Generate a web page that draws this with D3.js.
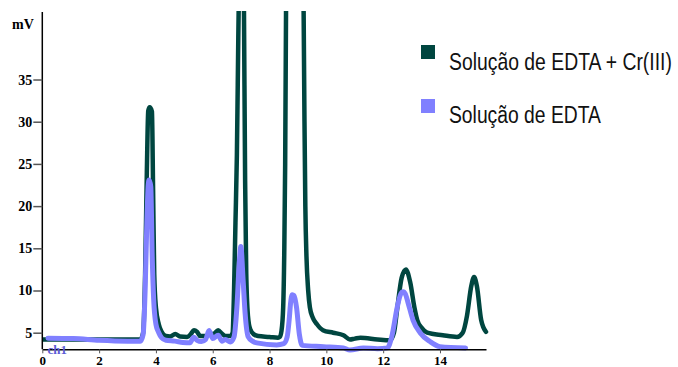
<!DOCTYPE html>
<html>
<head>
<meta charset="utf-8">
<script src="https://cdn.jsdelivr.net/npm/d3@7"></script>
<style>
  html, body { margin: 0; padding: 0; background: #fff; }
  svg { display: block; }
</style>
</head>
<body>
<svg id="chart" width="678" height="367"></svg>
<script>
// ---- data (time in min, signal in mV) ----
const seriesNames = ["Solução de EDTA + Cr(III)", "Solução de EDTA"];
const seriesColors = ["#004640", "#8080ff"];

const crTime = [0, 1, 2, 3, 3.45, 3.55, 3.62, 3.68, 3.73, 3.78, 3.86, 3.9, 3.94, 4.0, 4.1, 4.2, 4.35,
  4.5, 4.68, 4.85, 5.1, 5.22, 5.34, 5.45, 5.56, 5.75, 5.9, 6.05, 6.19, 6.32, 6.45, 6.62,
  6.7, 6.75, 6.8, 6.85, 6.9, 6.98, 7.03, 7.1, 7.14, 7.18, 7.24, 7.32, 7.45, 7.6, 8.0, 8.3,
  8.36, 8.42, 8.48, 8.52, 8.55, 8.58, 8.65, 8.9, 9.15, 9.2, 9.23, 9.26, 9.3, 9.36, 9.42, 9.52,
  9.67, 9.88, 10.24, 10.6, 10.83, 11.0, 11.2, 11.8, 12.24, 12.38, 12.5, 12.65, 12.8, 12.95,
  13.1, 13.2, 13.35, 13.55, 14.1, 14.6, 14.8, 14.95, 15.1, 15.2, 15.3, 15.45, 15.62];
const crValue = [4.2, 4.2, 4.2, 4.2, 4.2, 5.0, 12, 24, 31.3, 31.7, 31.2, 22, 12, 8, 6, 5.1, 4.6,
  4.55, 4.85, 4.55, 4.5, 4.8, 5.3, 5.1, 4.6, 4.6, 4.8, 4.9, 5.3, 4.9, 4.6, 4.6,
  5.0, 10, 18, 26, 40, 60, 70, 43, 23, 12, 7, 5.4, 4.8, 4.6, 4.5, 4.4,
  4.5, 5.2, 8, 15, 25, 43, 70, 110, 70, 43, 30, 20, 14, 10, 8, 6.8,
  6.0, 5.3, 5.0, 4.7, 4.2, 4.3, 4.4, 4.2, 4.1, 5.0, 8.0, 11.5, 12.5, 11.0,
  8.0, 6.5, 5.6, 5.0, 4.7, 4.5, 5.0, 7.0, 10.5, 11.6, 10.5, 6.5, 5.1];

const edtaTime = [0.2, 1.1, 2, 3, 3.45, 3.55, 3.62, 3.68, 3.73, 3.76, 3.82, 3.87, 3.92, 4.0, 4.1, 4.2, 4.35,
  4.66, 4.95, 5.2, 5.33, 5.45, 5.6, 5.75, 5.87, 6.0, 6.19, 6.33, 6.45, 6.62, 6.75, 6.85, 6.93,
  6.99, 7.07, 7.14, 7.25, 7.4, 7.55, 8.25, 8.5, 8.62, 8.69, 8.74, 8.8, 8.86, 8.95, 9.05, 9.15,
  9.9, 10.6, 10.83, 11.3, 11.8, 12.15, 12.3, 12.5, 12.62, 12.7, 12.78, 12.88, 13.05, 13.3,
  13.65, 14.0, 14.9];
const edtaValue = [4.35, 4.3, 4.1, 4.0, 4.0, 4.8, 10, 18, 22.5, 23.1, 22.3, 14, 9, 6, 5, 4.4, 4.1,
  4.0, 3.85, 3.8, 4.45, 4.1, 3.95, 4.2, 5.25, 4.3, 4.7, 4.0, 4.2, 3.9, 4.5, 8, 13,
  15.2, 11.2, 7.3, 4.5, 4.0, 3.8, 3.55, 3.7, 4.5, 6.5, 8.5, 9.5, 9.4, 8.0, 4.8, 3.5,
  3.35, 3.2, 2.95, 3.2, 3.1, 3.2, 4.5, 8.1, 9.6, 9.85, 9.6, 8.5, 6.5, 5.0,
  3.95, 3.35, 3.2];

const xTicks = [0, 2, 4, 6, 8, 10, 12, 14];
const yTicks = [5, 10, 15, 20, 25, 30, 35];
const yUnit = "mV";
const channelLabel = "ch1";

// ---- drawing ----
const svg = d3.select("#chart");
const x = d3.scaleLinear().domain([0, 15.62]).range([42.3, 486]);
const y = d3.scaleLinear().domain([3.033, 43.0]).range([349.3, 12]);

const serif = "'Liberation Serif', 'Times New Roman', serif";

svg.append("defs").append("clipPath").attr("id", "plotclip")
  .append("rect").attr("x", 42).attr("y", 11).attr("width", 460).attr("height", 345);

const line = d3.line()
  .x(d => x(d[0])).y(d => y(d[1]))
  .curve(d3.curveMonotoneX);

const crData = crTime.map((t, i) => [t, crValue[i]]);
const edtaData = edtaTime.map((t, i) => [t, edtaValue[i]]);

const g = svg.append("g").attr("clip-path", "url(#plotclip)");
g.append("path").datum(crData).attr("d", line)
  .attr("fill", "none").attr("stroke", seriesColors[0])
  .attr("stroke-width", 4.5).attr("stroke-linejoin", "round").attr("stroke-linecap", "round");
g.append("path").datum(edtaData).attr("d", line)
  .attr("fill", "none").attr("stroke", seriesColors[1])
  .attr("stroke-width", 5).attr("stroke-linejoin", "round").attr("stroke-linecap", "round");

// axes
const yAxis = d3.axisLeft(y).tickValues(yTicks).tickSize(9).tickSizeOuter(0).tickPadding(1);
const ya = svg.append("g").attr("transform", "translate(42.3,0)").call(yAxis);
ya.select(".domain").attr("stroke", "#000").attr("stroke-width", 1.5)
  .attr("d", `M0,${y(43)}V${y(3.033)}`);
ya.selectAll(".tick line").attr("stroke", "#555").attr("stroke-width", 1.5);
ya.selectAll(".tick text").attr("font-family", serif).attr("font-weight", "bold")
  .attr("font-size", 14).attr("fill", "#000");

const xAxis = d3.axisBottom(x).tickValues(xTicks).tickSize(4).tickSizeOuter(0).tickPadding(2);
const xa = svg.append("g").attr("transform", "translate(0,349.3)").call(xAxis);
xa.select(".domain").attr("stroke", "#000").attr("stroke-width", 1.5);
xa.selectAll(".tick line").attr("stroke", "#555").attr("stroke-width", 1);
xa.selectAll(".tick text").attr("font-family", serif).attr("font-weight", "bold")
  .attr("font-size", 13).attr("fill", "#000");

svg.append("text").attr("x", 12).attr("y", 29)
  .attr("font-family", serif).attr("font-weight", "bold").attr("font-size", 14)
  .attr("fill", "#000").text(yUnit);

svg.append("text").attr("x", 47.5).attr("y", 354)
  .attr("font-family", serif).attr("font-weight", "bold").attr("font-size", 13)
  .attr("fill", "#5c5cd6").text(channelLabel);

// legend (condensed text via horizontal scale)
const legY = [45, 99];
const legBase = [70, 123];
const legLen = [223, 152];
seriesNames.forEach((name, i) => {
  svg.append("rect").attr("x", 421).attr("y", legY[i]).attr("width", 14).attr("height", 14)
    .attr("fill", seriesColors[i]);
  const t = svg.append("text").attr("x", 0).attr("y", 0)
    .attr("font-family", "'Liberation Sans', Arial, sans-serif").attr("font-size", 24)
    .attr("fill", "#111")
    .text(name);
  const w = t.node().getComputedTextLength();
  t.attr("transform", `translate(449,${legBase[i]}) scale(${legLen[i] / w},1)`);
});
</script>
</body>
</html>
